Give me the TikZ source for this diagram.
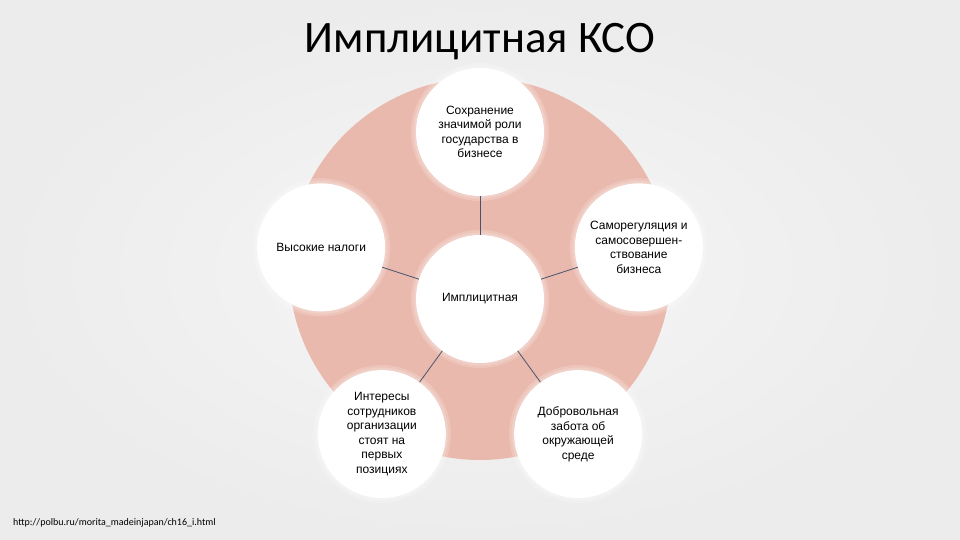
\documentclass[tikz,border=0pt]{standalone}
\usepackage{fontspec}
\setmainfont{Liberation Sans}
\newfontfamily\titlefont{Carlito}
\usetikzlibrary{positioning}
\definecolor{slidebg}{RGB}{236,236,236}
\definecolor{slidemid}{RGB}{246,246,246}
\definecolor{discpink}{RGB}{234,185,173}
\definecolor{linkgray}{RGB}{70,84,108}
\tikzset{
  bubble/.style={circle, fill=white, minimum size=128pt, inner sep=0pt,
    align=center, font=\fontsize{12}{14.5}\selectfont},
  link/.style={draw=linkgray, line width=0.8pt},
  glow/.style={fill=white, opacity=0.18},
}

\begin{document}
\begin{tikzpicture}
  % slide area, origin at the centre of the middle circle
  \shade[inner color=slidemid, outer color=slidebg] (-480pt,-241pt) rectangle (480pt,299pt);
  \useasboundingbox (-480pt,-241pt) rectangle (480pt,299pt);

  \node[font=\titlefont\fontsize{45}{50}\selectfont] (title) at (0pt,257pt) {Имплицитная КСО};

  % big pink disc behind the radial
  \fill[discpink] (0pt,30pt) circle (191pt);

  % soft halo round the circles
  \foreach \ang in {90,18,162,234,306}{
    \fill[glow] (\ang:167pt) circle (69pt);
    \fill[glow] (\ang:167pt) circle (66.5pt);
  }
  \fill[glow] (0,0) circle (69pt);
  \fill[glow] (0,0) circle (66.5pt);

  \node[bubble]               (ctr)   at (0,0)       {Имплицитная};
  \node[bubble]               (top)   at (90:167pt)  {Сохранение\\значимой роли\\государства в\\бизнесе};
  \node[bubble]               (right) at (18:167pt)  {Саморегуляция и\\самосовершен-\\ствование\\бизнеса};
  \node[bubble]               (left)  at (162:167pt) {Высокие налоги};
  \node[bubble]               (botl)  at (234:167pt) {Интересы\\сотрудников\\организации\\стоят на\\первых\\позициях};
  \node[bubble]               (botr)  at (306:167pt) {Добровольная\\забота об\\окружающей\\среде};

  \draw[link] (ctr) -- (top);
  \draw[link] (ctr) -- (right);
  \draw[link] (ctr) -- (left);
  \draw[link] (ctr) -- (botl);
  \draw[link] (ctr) -- (botr);

  \node[anchor=west, inner sep=0pt, font=\titlefont\fontsize{10}{12}\selectfont] (src) at (-467pt,-224pt)
    {http://polbu.ru/morita\_madeinjapan/ch16\_i.html};
\end{tikzpicture}
\end{document}
